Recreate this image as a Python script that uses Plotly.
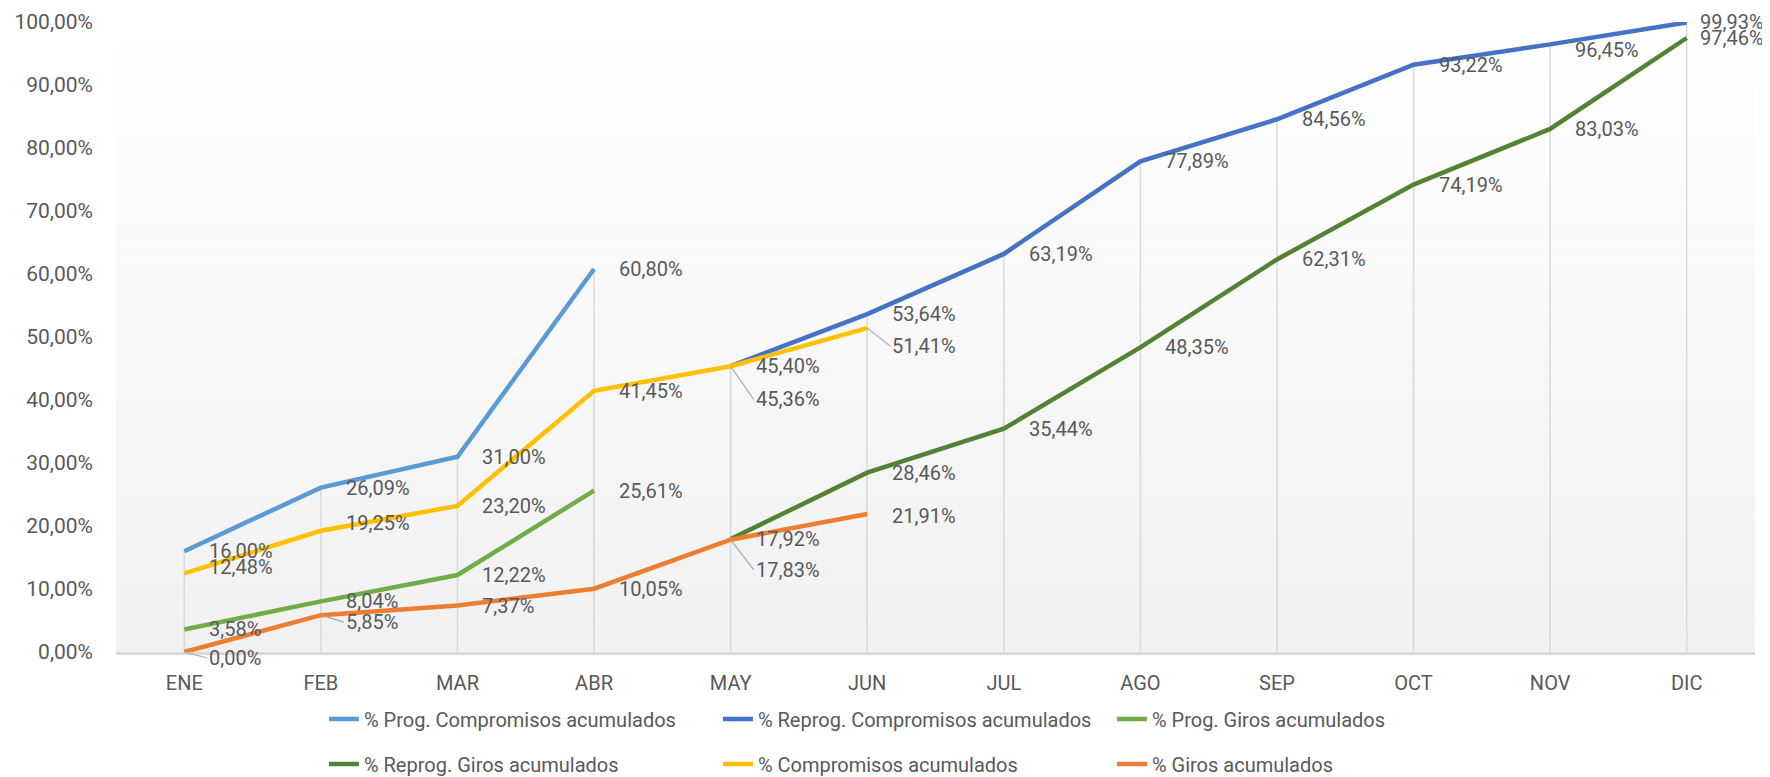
import plotly.graph_objects as go

months = ["ENE", "FEB", "MAR", "ABR", "MAY", "JUN", "JUL", "AGO", "SEP", "OCT", "NOV", "DIC"]

prog_compromisos = [16.00, 26.09, 31.00, 60.80, None, None, None, None, None, None, None, None]
reprog_compromisos = [None, None, None, None, 45.40, 53.64, 63.19, 77.89, 84.56, 93.22, 96.45, 99.93]
prog_giros = [3.58, 8.04, 12.22, 25.61, None, None, None, None, None, None, None, None]
reprog_giros = [None, None, None, None, 17.92, 28.46, 35.44, 48.35, 62.31, 74.19, 83.03, 97.46]
compromisos = [12.48, 19.25, 23.20, 41.45, 45.36, 51.41, None, None, None, None, None, None]
giros = [0.00, 5.85, 7.37, 10.05, 17.83, 21.91, None, None, None, None, None, None]

names = [
    "% Prog. Compromisos acumulados",
    "% Reprog. Compromisos acumulados",
    "% Prog. Giros acumulados",
    "% Reprog. Giros acumulados",
    "% Compromisos acumulados",
    "% Giros acumulados",
]
series = [prog_compromisos, reprog_compromisos, prog_giros, reprog_giros, compromisos, giros]
colors = ["#5B9BD5", "#4472C4", "#70AD47", "#548235", "#FFC000", "#ED7D31"]

# label vertical nudges (px, positive = down) and leader-line flags, per series/month
label_dy = {
    (4, 0): -6, (4, 1): -8, (4, 4): 33, (4, 5): 18,
    (5, 0): 6, (5, 1): 7, (5, 4): 30, (5, 5): 2,
    (1, 10): 6,
}
leader = {(4, 4), (4, 5), (5, 0), (5, 1), (5, 4)}
label_dx = {(1, 11): 11, (3, 11): 11}

FONT = "Roboto, sans-serif"
TEXT_COLOR = "#595959"

fig = go.Figure()

# background vertical gradient (white top -> light gray bottom)
n_bands = 60
for i in range(n_bands):
    t = (i + 0.5) / n_bands  # 0 at bottom, 1 at top
    v = int(round(241 + (255 - 241) * t))
    fig.add_shape(type="rect", xref="x domain", yref="y domain",
                  x0=0, x1=1, y0=i / n_bands, y1=(i + 1) / n_bands,
                  fillcolor=f"rgb({v},{v},{v})", line_width=0, layer="below")

# drop lines from the highest value of each month to the axis
drop_x, drop_y = [], []
for j, m in enumerate(months):
    vals = [s[j] for s in series if s[j] is not None]
    if vals:
        drop_x += [m, m, None]
        drop_y += [0, max(vals), None]
fig.add_trace(go.Scatter(x=drop_x, y=drop_y, mode="lines",
                         line=dict(color="#d9d9d9", width=1.5),
                         showlegend=False, hoverinfo="skip"))

for k, (nm, s, c) in enumerate(zip(names, series, colors)):
    fig.add_trace(go.Scatter(
        x=months, y=s, mode="lines", name=nm,
        line=dict(color=c, width=4.5),
        legend="legend" if k in (0, 1, 2) else "legend2",
    ))

# data labels
for k, s in enumerate(series):
    for j, v in enumerate(s):
        if v is None:
            continue
        txt = f"{v:.2f}".replace(".", ",") + "%"
        dy = label_dy.get((k, j), 0)
        dx = label_dx.get((k, j), 23)
        if (k, j) in leader:
            fig.add_annotation(x=months[j], y=v, text=txt, showarrow=True,
                               ax=dx, ay=dy, axref="pixel", ayref="pixel",
                               xanchor="left", yanchor="middle",
                               arrowhead=0, arrowwidth=1.2, arrowcolor="#a6a6a6",
                               standoff=0, startstandoff=0,
                               font=dict(family=FONT, size=20, color=TEXT_COLOR))
        else:
            fig.add_annotation(x=months[j], y=v, text=txt, showarrow=False,
                               xanchor="left", yanchor="middle",
                               xshift=dx, yshift=-dy,
                               font=dict(family=FONT, size=20, color=TEXT_COLOR))

legend_font = dict(family=FONT, size=20, color=TEXT_COLOR)
fig.update_layout(
    width=1762, height=769,
    margin=dict(l=108, r=15, t=14, b=125),
    paper_bgcolor="white", plot_bgcolor="white",
    separators=",.",
    font=dict(family=FONT, color=TEXT_COLOR),
    xaxis=dict(type="category", range=[-0.5, 11.5], showgrid=False,
               showline=True, linecolor="#d9d9d9", linewidth=2.5,
               ticks="", tickfont=dict(size=20, color=TEXT_COLOR),
               ticklabelstandoff=11, zeroline=False, automargin=False),
    yaxis=dict(range=[0, 100], dtick=10, tickformat=".2f", ticksuffix="%",
               showgrid=False, zeroline=False, showline=False, automargin=False,
               tickfont=dict(size=21, color=TEXT_COLOR), ticklabelstandoff=22),
    legend=dict(orientation="h", xref="container", yref="container",
                x=0.1793, y=0.0754, xanchor="left", yanchor="middle",
                entrywidth=349, bgcolor="rgba(0,0,0,0)", font=legend_font),
    legend2=dict(orientation="h", xref="container", yref="container",
                 x=0.1793, y=0.0169, xanchor="left", yanchor="middle",
                 entrywidth=349, bgcolor="rgba(0,0,0,0)", font=legend_font),
)

fig.write_html("out.html")
